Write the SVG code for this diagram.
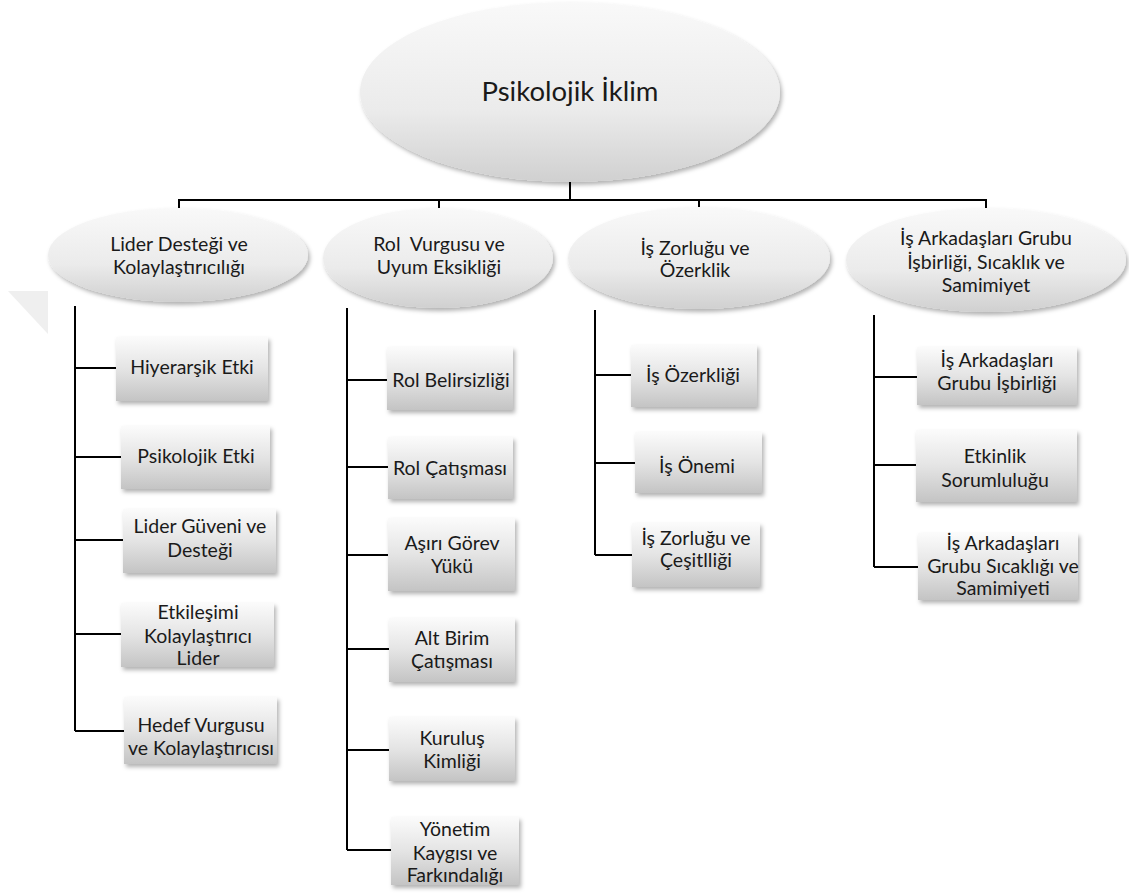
<svg xmlns="http://www.w3.org/2000/svg" width="1129" height="895" viewBox="0 0 1129 895">
<style>
  text { font-family: Lato, "Liberation Sans", sans-serif; fill: #1a1a1a; text-anchor: middle; font-weight: 400; }
  .t { font-size: 19.5px; }
  .title { font-size: 27.5px; }
  .ell { fill: url(#gEll); filter: url(#sh); }
  .box { fill: url(#gBox); filter: url(#sh); }
  .con { stroke: #000; stroke-width: 2; fill: none; }
</style>
<defs>
  <linearGradient id="gEll" x1="0" y1="0" x2="0" y2="1">
    <stop offset="0" stop-color="#f9f9f9"/>
    <stop offset="0.6" stop-color="#ebebeb"/>
    <stop offset="1" stop-color="#d0d0d0"/>
  </linearGradient>
  <linearGradient id="gBox" x1="0" y1="0" x2="0" y2="1">
    <stop offset="0" stop-color="#fbfbfb"/>
    <stop offset="0.5" stop-color="#e4e4e4"/>
    <stop offset="1" stop-color="#c4c4c4"/>
  </linearGradient>
  <filter id="sh" x="-10%" y="-10%" width="125%" height="135%">
    <feDropShadow dx="2" dy="3" stdDeviation="2" flood-color="#000" flood-opacity="0.3"/>
  </filter>
</defs>
<rect width="1129" height="895" fill="#fff"/>
<polygon points="8,291 48,291 48,334" fill="#efefef"/>

<g id="connectors">
  <path class="con" d="M570,182 V200 M179,208 V200 H986 V208 M439,200 V208 M699,200 V208"/>
  <path class="con" d="M75,306 V731 M75,368 H116 M75,457 H121 M75,540 H123 M75,634 H121 M75,731 H124"/>
  <path class="con" d="M347,308 V850 M347,380 H387 M347,467 H388 M347,555 H388 M347,649 H389 M347,750 H389 M347,850 H391"/>
  <path class="con" d="M595,310 V555 M595,375 H631 M595,463 H635 M595,555 H632"/>
  <path class="con" d="M874,315 V567 M874,377 H917 M874,465 H916 M874,567 H918"/>
</g>

<g id="root">
  <ellipse class="ell" cx="570" cy="92" rx="210" ry="90"/>
  <text class="title" x="570" y="101">Psikolojik İklim</text>
</g>

<g id="n-lider">
  <ellipse class="ell" cx="178" cy="255" rx="130" ry="47"/>
  <text class="t" x="179" y="251">Lider Desteği ve</text>
  <text class="t" x="179" y="274">Kolaylaştırıcılığı</text>
</g>
<g id="n-rol">
  <ellipse class="ell" cx="438" cy="258" rx="115" ry="50"/>
  <text class="t" x="439" y="251" xml:space="preserve">Rol  Vurgusu ve</text>
  <text class="t" x="439" y="274">Uyum Eksikliği</text>
</g>
<g id="n-zorluk">
  <ellipse class="ell" cx="699" cy="258" rx="131" ry="51"/>
  <text class="t" x="695" y="255">İş Zorluğu ve</text>
  <text class="t" x="695" y="277">Özerklik</text>
</g>
<g id="n-arkadas">
  <ellipse class="ell" cx="986" cy="260" rx="140" ry="52"/>
  <text class="t" x="986" y="245">İş Arkadaşları Grubu</text>
  <text class="t" x="986" y="269">İşbirliği, Sıcaklık ve</text>
  <text class="t" x="986" y="292">Samimiyet</text>
</g>

<g id="b-hiyerarsik">
  <rect class="box" x="116" y="337" width="152" height="64"/>
  <text class="t" x="192" y="374">Hiyerarşik Etki</text>
</g>
<g id="b-psikolojik">
  <rect class="box" x="121" y="426" width="149" height="63"/>
  <text class="t" x="196" y="463">Psikolojik Etki</text>
</g>
<g id="b-guven">
  <rect class="box" x="123" y="509" width="153" height="64"/>
  <text class="t" x="200" y="533">Lider Güveni ve</text>
  <text class="t" x="200" y="557">Desteği</text>
</g>
<g id="b-etkilesim">
  <rect class="box" x="121" y="603" width="153" height="64"/>
  <text class="t" x="198" y="619">Etkileşimi</text>
  <text class="t" x="198" y="643">Kolaylaştırıcı</text>
  <text class="t" x="198" y="665">Lider</text>
</g>
<g id="b-hedef">
  <rect class="box" x="124" y="697" width="153" height="67"/>
  <text class="t" x="201" y="732">Hedef Vurgusu</text>
  <text class="t" x="201" y="755">ve Kolaylaştırıcısı</text>
</g>

<g id="b-belirsizlik">
  <rect class="box" x="387" y="347" width="126" height="63"/>
  <text class="t" x="451" y="387">Rol Belirsizliği</text>
</g>
<g id="b-catisma">
  <rect class="box" x="388" y="437" width="125" height="62"/>
  <text class="t" x="450" y="475">Rol Çatışması</text>
</g>
<g id="b-asiri">
  <rect class="box" x="388" y="518" width="127" height="73"/>
  <text class="t" x="452" y="550">Aşırı Görev</text>
  <text class="t" x="452" y="573">Yükü</text>
</g>
<g id="b-altbirim">
  <rect class="box" x="389" y="618" width="126" height="64"/>
  <text class="t" x="452" y="645">Alt Birim</text>
  <text class="t" x="452" y="668">Çatışması</text>
</g>
<g id="b-kurulus">
  <rect class="box" x="389" y="717" width="126" height="64"/>
  <text class="t" x="452" y="745">Kuruluş</text>
  <text class="t" x="452" y="768">Kimliği</text>
</g>
<g id="b-yonetim">
  <rect class="box" x="391" y="817" width="128" height="68"/>
  <text class="t" x="455" y="836">Yönetim</text>
  <text class="t" x="455" y="860">Kaygısı ve</text>
  <text class="t" x="455" y="882">Farkındalığı</text>
</g>

<g id="b-ozerklik">
  <rect class="box" x="631" y="345" width="126" height="62"/>
  <text class="t" x="693" y="382">İş Özerkliği</text>
</g>
<g id="b-onem">
  <rect class="box" x="635" y="432" width="127" height="61"/>
  <text class="t" x="697" y="473">İş Önemi</text>
</g>
<g id="b-cesitlilik">
  <rect class="box" x="632" y="523" width="128" height="64"/>
  <text class="t" x="696" y="545">İş Zorluğu ve</text>
  <text class="t" x="696" y="567">Çeşitlliği</text>
</g>

<g id="b-isbirligi">
  <rect class="box" x="917" y="347" width="160" height="58"/>
  <text class="t" x="997" y="367">İş Arkadaşları</text>
  <text class="t" x="997" y="390">Grubu İşbirliği</text>
</g>
<g id="b-etkinlik">
  <rect class="box" x="916" y="430" width="161" height="72"/>
  <text class="t" x="995" y="463">Etkinlik</text>
  <text class="t" x="995" y="487">Sorumluluğu</text>
</g>
<g id="b-sicaklik">
  <rect class="box" x="918" y="533" width="160" height="67"/>
  <text class="t" x="1003" y="550">İş Arkadaşları</text>
  <text class="t" x="1003" y="573">Grubu Sıcaklığı ve</text>
  <text class="t" x="1003" y="595">Samimiyeti</text>
</g>
</svg>
